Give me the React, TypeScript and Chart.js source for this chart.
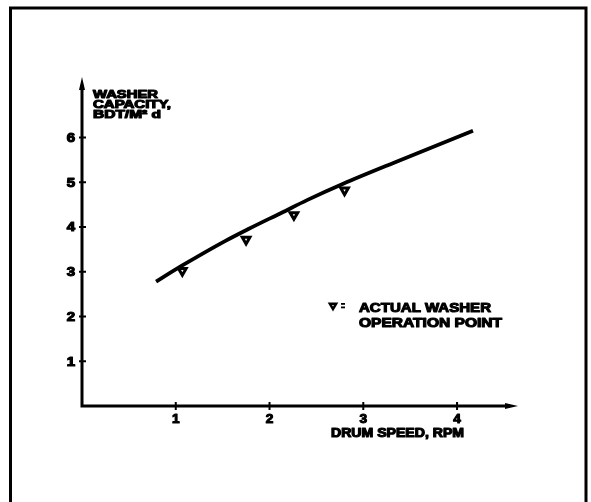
import React, { useEffect, useRef } from "react";
import { Chart, registerables } from "chart.js";

Chart.register(...registerables);

// Axis ticks
const xTicks = [1, 2, 3, 4];
const yTicks = [1, 2, 3, 4, 5, 6];

// Fitted washer capacity curve (drum speed in RPM, capacity in BDT/m²·d)
const curveSpeed = [0.79, 1.07, 1.53, 1.78, 2.14, 2.4, 2.78, 3.38, 4.17];
const curveCapacity = [2.78, 3.14, 3.69, 3.96, 4.33, 4.6, 4.96, 5.48, 6.15];

// Actual washer operation points
const pointSpeed = [1.07, 1.75, 2.26, 2.8];
const pointCapacity = [3.02, 3.72, 4.27, 4.82];

// Text
const yTitleLines = ["WASHER", "CAPACITY,", "BDT/M² d"];
const xTitle = "DRUM SPEED, RPM";
const legendLines = ["ACTUAL WASHER", "OPERATION POINT"];

const FONT = '"Liberation Sans", Arial, Helvetica, sans-serif';

function drawText(
  ctx: CanvasRenderingContext2D,
  text: string,
  x: number,
  y: number,
  size: number,
  opts: { width?: number; sx?: number; align?: CanvasTextAlign; baseline?: CanvasTextBaseline } = {}
) {
  ctx.save();
  ctx.font = `bold ${size}px ${FONT}`;
  const measured = ctx.measureText(text).width;
  const sx = opts.width ? opts.width / measured : opts.sx ?? 1;
  ctx.translate(x, y);
  ctx.scale(sx, 1);
  ctx.textAlign = opts.align ?? "left";
  ctx.textBaseline = opts.baseline ?? "alphabetic";
  ctx.fillStyle = "#000";
  ctx.strokeStyle = "#000";
  ctx.lineWidth = 1.1;
  ctx.lineJoin = "round";
  ctx.fillText(text, 0, 0);
  ctx.strokeText(text, 0, 0);
  ctx.restore();
}

function downTriangle(ctx: CanvasRenderingContext2D, cx: number, cy: number, r: number) {
  ctx.save();
  ctx.beginPath();
  ctx.moveTo(cx - r * 0.87, cy - r * 0.5);
  ctx.lineTo(cx + r * 0.87, cy - r * 0.5);
  ctx.lineTo(cx, cy + r);
  ctx.closePath();
  ctx.fillStyle = "#fff";
  ctx.fill();
  ctx.strokeStyle = "#000";
  ctx.lineWidth = 2.5;
  ctx.lineJoin = "miter";
  ctx.stroke();
  ctx.restore();
}

const decorations = {
  id: "decorations",
  beforeDatasetsDraw(chart: any) {
    const { ctx } = chart;
    const xs = chart.scales.x;
    const ys = chart.scales.y;
    const x0 = xs.getPixelForValue(0);
    const y0 = ys.getPixelForValue(0);
    const xEnd = xs.right;
    const yTop = ys.top;

    ctx.save();
    // page frame
    ctx.strokeStyle = "#000";
    ctx.lineWidth = 3;
    ctx.beginPath();
    ctx.moveTo(10.5, 502);
    ctx.lineTo(10.5, 8);
    ctx.lineTo(586, 8);
    ctx.lineTo(586, 502);
    ctx.stroke();

    // axes
    ctx.lineWidth = 3;
    ctx.lineCap = "butt";
    ctx.beginPath();
    ctx.moveTo(x0, y0 + 1.5);
    ctx.lineTo(x0, yTop + 8);
    ctx.moveTo(x0 - 1.5, y0);
    ctx.lineTo(xEnd - 8, y0);
    ctx.stroke();

    // arrow heads
    ctx.fillStyle = "#000";
    ctx.beginPath();
    ctx.moveTo(x0, yTop);
    ctx.lineTo(x0 + 3, yTop + 13);
    ctx.lineTo(x0 - 3, yTop + 13);
    ctx.closePath();
    ctx.fill();
    ctx.beginPath();
    ctx.moveTo(xEnd, y0);
    ctx.lineTo(xEnd - 13, y0 - 3);
    ctx.lineTo(xEnd - 13, y0 + 3);
    ctx.closePath();
    ctx.fill();

    // tick marks
    ctx.lineWidth = 2;
    ctx.beginPath();
    for (const t of yTicks) {
      const py = ys.getPixelForValue(t);
      ctx.moveTo(x0 - 3, py);
      ctx.lineTo(x0 + 4, py);
    }
    for (const t of xTicks) {
      const px = xs.getPixelForValue(t);
      ctx.moveTo(px, y0 - 4);
      ctx.lineTo(px, y0 + 4);
    }
    ctx.stroke();
    ctx.restore();

    // tick labels
    for (const t of yTicks) {
      drawText(ctx, String(t), x0 - 7, ys.getPixelForValue(t) + 4.5, 12, { sx: 1.25, align: "right" });
    }
    for (const t of xTicks) {
      drawText(ctx, String(t), xs.getPixelForValue(t), y0 + 17, 13, { sx: 1.05, align: "center" });
    }

    // axis titles
    const yWidths = [65, 78, 68];
    yTitleLines.forEach((line, i) => {
      drawText(ctx, line, x0 + 11, 98 + i * 10, 11, { width: yWidths[i] });
    });
    drawText(ctx, xTitle, 331, 437, 12, { width: 133 });

    // key
    downTriangle(ctx, 333, 305.5, 3.6);
    ctx.save();
    ctx.fillStyle = "#000";
    ctx.fillRect(341, 303, 4, 1.8);
    ctx.fillRect(341, 306.5, 4, 1.8);
    ctx.restore();
    drawText(ctx, legendLines[0], 359, 312, 13, { width: 132 });
    drawText(ctx, legendLines[1], 359, 327, 13, { width: 143 });
  },
};

export default function App() {
  const canvasRef = useRef<HTMLCanvasElement | null>(null);

  useEffect(() => {
    const canvas = canvasRef.current;
    if (!canvas) return;
    const chart = new Chart(canvas, {
      type: "scatter",
      data: {
        datasets: [
          {
            type: "line",
            data: curveSpeed.map((s, i) => ({ x: s, y: curveCapacity[i] })),
            borderColor: "#000",
            borderWidth: 3.8,
            pointRadius: 0,
            cubicInterpolationMode: "monotone",
            fill: false,
          },
          {
            type: "scatter",
            data: pointSpeed.map((s, i) => ({ x: s, y: pointCapacity[i] })),
            pointStyle: "triangle",
            rotation: 180,
            radius: 4.4,
            backgroundColor: "#fff",
            borderColor: "#000",
            borderWidth: 3,
          },
        ],
      },
      options: {
        responsive: false,
        animation: false,
        events: [],
        layout: { padding: { left: 82, right: 73, top: 77, bottom: 96 } },
        plugins: { legend: { display: false }, tooltip: { enabled: false } },
        scales: {
          x: { type: "linear", min: 0, max: 4.65, display: false },
          y: { type: "linear", min: 0, max: 7.35, display: false },
        },
      },
      plugins: [decorations],
    });
    return () => chart.destroy();
  }, []);

  return (
    <div style={{ position: "fixed", left: 0, top: 0, width: 591, height: 502, background: "#fff" }}>
      <canvas ref={canvasRef} width={591} height={502} style={{ display: "block" }} />
    </div>
  );
}
